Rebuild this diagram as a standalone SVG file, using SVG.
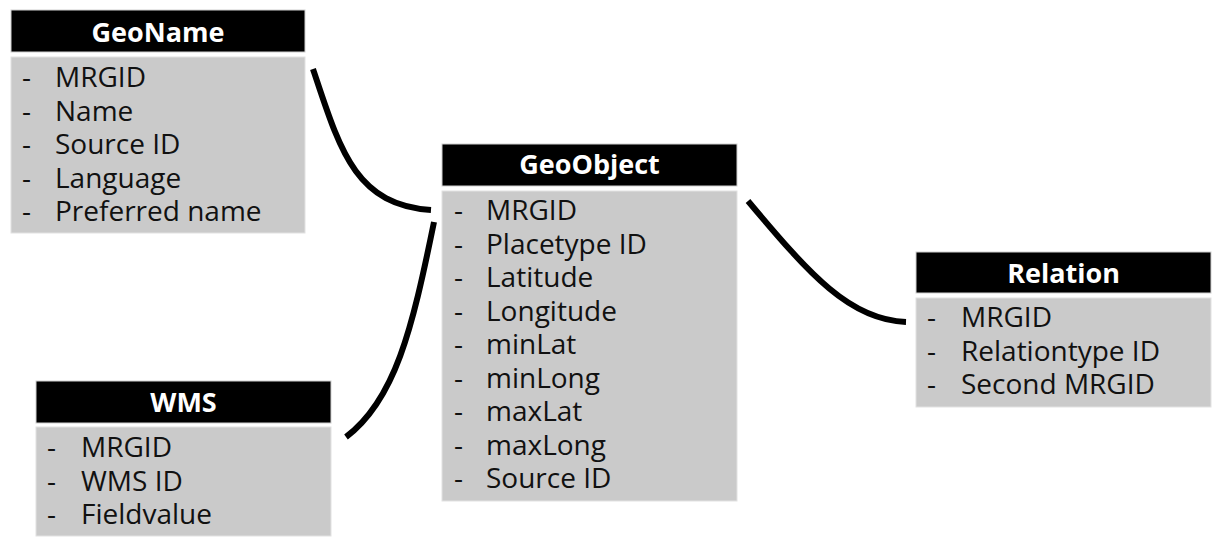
<svg xmlns="http://www.w3.org/2000/svg" width="1229" height="559" viewBox="0 0 1229 559">
<style>
.hd{fill:#000;stroke:#d0d0d0;stroke-width:1}
.bd{fill:#cacaca;stroke:#e2e2e2;stroke-width:1}
.ht{font-family:"Open Sans",sans-serif;font-weight:bold;font-size:27px;fill:#fff;text-anchor:middle}
.it{font-family:"Open Sans",sans-serif;font-size:28px;fill:#111}
.cn{fill:none;stroke:#000;stroke-width:6}
</style>
<rect width="1229" height="559" fill="#fff"/>
<g id="connectors">
<path class="cn" d="M313,69 C340,150 355,205 431,210"/>
<path class="cn" d="M346,437 C395,400 412,330 434,222"/>
<path class="cn" d="M748,201 C810,275 850,320 906,322"/>
</g>
<g id="GeoName">
<rect class="hd" x="11" y="10" width="294" height="42"/>
<rect class="bd" x="11" y="57" width="294" height="176"/>
<text class="ht" x="158" y="42">GeoName</text>
<text class="it"><tspan x="22" y="87">-</tspan><tspan x="55" y="87">MRGID</tspan><tspan x="22" y="120.5">-</tspan><tspan x="55" y="120.5">Name</tspan><tspan x="22" y="154">-</tspan><tspan x="55" y="154">Source ID</tspan><tspan x="22" y="187.5">-</tspan><tspan x="55" y="187.5">Language</tspan><tspan x="22" y="221">-</tspan><tspan x="55" y="221">Preferred name</tspan></text>
</g>
<g id="GeoObject">
<rect class="hd" x="442" y="144" width="295" height="42"/>
<rect class="bd" x="442" y="191" width="295" height="310"/>
<text class="ht" x="589.5" y="174">GeoObject</text>
<text class="it"><tspan x="454" y="220">-</tspan><tspan x="486" y="220">MRGID</tspan><tspan x="454" y="253.5">-</tspan><tspan x="486" y="253.5">Placetype ID</tspan><tspan x="454" y="287">-</tspan><tspan x="486" y="287">Latitude</tspan><tspan x="454" y="320.5">-</tspan><tspan x="486" y="320.5">Longitude</tspan><tspan x="454" y="354">-</tspan><tspan x="486" y="354">minLat</tspan><tspan x="454" y="387.5">-</tspan><tspan x="486" y="387.5">minLong</tspan><tspan x="454" y="421">-</tspan><tspan x="486" y="421">maxLat</tspan><tspan x="454" y="454.5">-</tspan><tspan x="486" y="454.5">maxLong</tspan><tspan x="454" y="488">-</tspan><tspan x="486" y="488">Source ID</tspan></text>
</g>
<g id="WMS">
<rect class="hd" x="36" y="381" width="295" height="42"/>
<rect class="bd" x="36" y="427" width="295" height="109"/>
<text class="ht" x="183.5" y="412">WMS</text>
<text class="it"><tspan x="47" y="457">-</tspan><tspan x="81" y="457">MRGID</tspan><tspan x="47" y="490.5">-</tspan><tspan x="81" y="490.5">WMS ID</tspan><tspan x="47" y="524">-</tspan><tspan x="81" y="524">Fieldvalue</tspan></text>
</g>
<g id="Relation">
<rect class="hd" x="916" y="252" width="295" height="41"/>
<rect class="bd" x="916" y="298" width="295" height="109"/>
<text class="ht" x="1063.5" y="283">Relation</text>
<text class="it"><tspan x="927" y="327">-</tspan><tspan x="961" y="327">MRGID</tspan><tspan x="927" y="360.5">-</tspan><tspan x="961" y="360.5">Relationtype ID</tspan><tspan x="927" y="394">-</tspan><tspan x="961" y="394">Second MRGID</tspan></text>
</g>
</svg>
